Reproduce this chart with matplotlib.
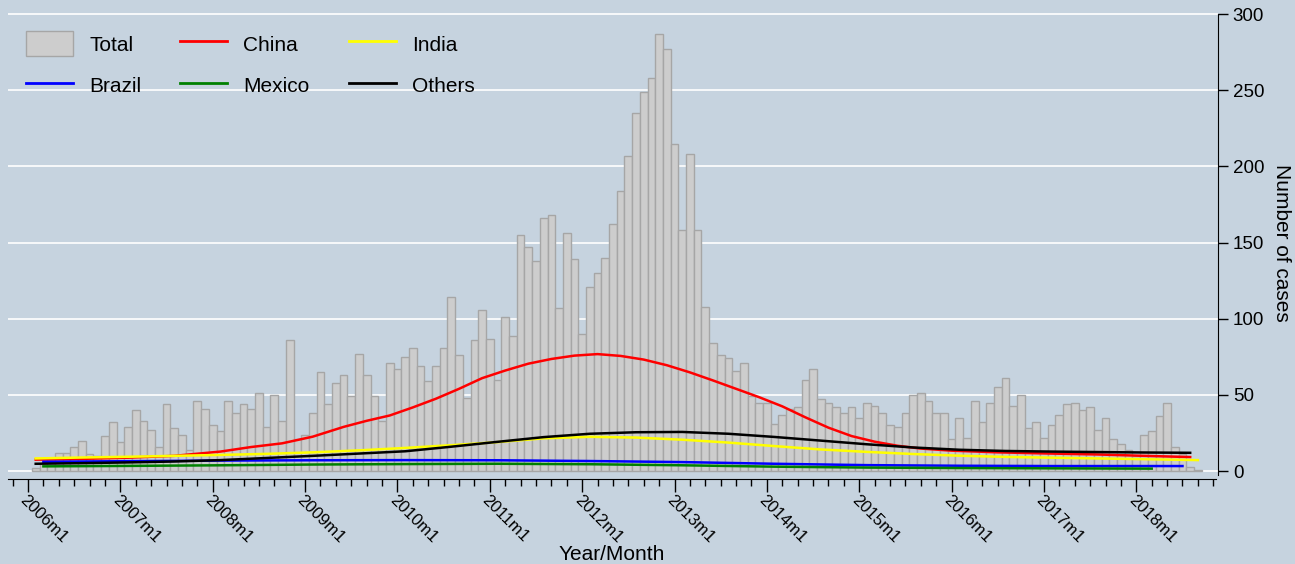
import numpy as np
import matplotlib.pyplot as plt
from matplotlib.patches import Patch
from matplotlib.lines import Line2D

plt.rcParams['font.family'] = ['Liberation Sans', 'DejaVu Sans']

# monthly totals, 2006m2 .. 2018m9 (month index 1 = 2006m2, 0 = 2006m1)
total = [2, 5, 8, 12, 12, 16, 20, 11, 10, 23, 32, 19,
         29, 40, 33, 27, 16, 44, 28, 24, 14, 46, 41, 30,
         26, 46, 38, 44, 41, 51, 29, 50, 33, 86, 21, 24,
         38, 65, 44, 58, 63, 49, 77, 63, 49, 33, 71, 67,
         75, 81, 69, 59, 69, 81, 114, 76, 48, 86, 106, 87,
         60, 101, 89, 155, 147, 138, 166, 168, 107, 156, 139, 90,
         121, 130, 140, 162, 184, 207, 235, 249, 258, 287, 277, 215,
         158, 208, 158, 108, 84, 76, 74, 66, 71, 49, 45, 45,
         31, 37, 41, 42, 60, 67, 47, 45, 42, 38, 42, 35,
         45, 43, 38, 30, 29, 38, 50, 51, 46, 38, 38, 21,
         35, 22, 46, 32, 45, 55, 61, 43, 50, 28, 32, 22,
         30, 37, 44, 45, 40, 42, 27, 35, 21, 18, 14, 10,
         24, 26, 36, 45, 16, 11, 3, 1]
total_months = np.arange(1, len(total) + 1)

# smoothed country curves (month index, cases)
china_m = [1, 7, 13, 19, 25, 29, 33, 37, 41, 44, 47, 50, 53, 56, 59, 62, 65, 68,
           71, 74, 77, 80, 83, 86, 89, 92, 95, 98, 101, 104, 107, 110, 113, 116,
           120, 126, 132, 139, 145, 151]
china_v = [7.5, 8.0, 8.8, 10.0, 12.8, 15.8, 18.2, 22.6, 29.0, 33.0, 36.5, 41.8,
           47.5, 54.0, 61.0, 66.0, 70.5, 73.6, 75.8, 76.8, 75.6, 73.2, 69.5, 64.8,
           59.5, 54.0, 48.5, 42.5, 35.3, 28.5, 23.0, 19.3, 16.6, 14.8, 13.4, 12.3,
           11.6, 10.9, 10.0, 9.2]

india_m = [1, 7, 13, 19, 25, 31, 37, 43, 49, 55, 61, 67, 73, 79, 85, 91, 97, 103,
           109, 115, 121, 127, 133, 139, 145, 152]
india_v = [8.3, 8.9, 9.4, 10.0, 10.6, 11.3, 12.3, 13.6, 15.2, 17.0, 19.0, 21.5,
           22.5, 22.0, 20.6, 18.7, 16.4, 14.2, 12.6, 11.2, 10.1, 9.3, 8.8, 8.3,
           7.8, 7.2]

brazil_m = [2, 13, 25, 37, 49, 61, 73, 85, 97, 109, 121, 133, 145, 150]
brazil_v = [6.1, 6.5, 6.9, 7.1, 7.2, 7.1, 6.6, 5.9, 4.8, 3.9, 3.5, 3.3, 3.3, 3.3]

mexico_m = [2, 13, 25, 37, 49, 61, 73, 85, 97, 109, 121, 133, 146]
mexico_v = [3.1, 3.4, 3.8, 4.3, 4.6, 4.8, 4.5, 3.8, 2.9, 2.3, 2.0, 1.8, 1.6]

others_m = [1, 7, 13, 19, 25, 31, 37, 43, 49, 55, 61, 67, 73, 79, 85, 91, 97, 103,
            109, 115, 121, 127, 133, 139, 145, 151]
others_v = [4.8, 5.2, 5.7, 6.3, 7.2, 8.6, 10.0, 11.5, 13.0, 16.0, 19.2, 22.3,
            24.5, 25.5, 25.7, 24.5, 22.4, 20.0, 17.6, 15.5, 14.0, 13.2, 12.8,
            12.5, 12.2, 12.0]

year_ticks = np.arange(0, 145, 12)
year_labels = [f"{2006 + i}m1" for i in range(len(year_ticks))]

bg = '#C6D3DF'
bar_fc = '#CDCDCD'
bar_ec = '#A6A6A6'

fig = plt.figure(figsize=(12.95, 5.64), dpi=100, facecolor=bg)
ax = fig.add_axes([8 / 1295, 1 - 479 / 564, 1209.5 / 1295, 472.5 / 564], facecolor=bg)

ax.bar(total_months, total, width=1.0, color=bar_fc, edgecolor=bar_ec, linewidth=1, zorder=2)
lw = 1.8
ax.plot(china_m, china_v, color='#FF0000', lw=lw, zorder=3)
ax.plot(india_m, india_v, color='#FFFF00', lw=lw, zorder=3)
ax.plot(brazil_m, brazil_v, color='#0000FF', lw=lw, zorder=3)
ax.plot(mexico_m, mexico_v, color='#008000', lw=lw, zorder=3)
ax.plot(others_m, others_v, color='black', lw=lw, zorder=3)

ax.set_xlim(-2.6, 154.55)
ax.set_ylim(-5.2, 305)

# y axis on the right
ax.yaxis.tick_right()
ax.set_yticks(np.arange(0, 301, 50))
ax.tick_params(axis='y', direction='out', length=7, width=1, labelsize=13.5, pad=4)
ax.grid(axis='y', color='white', lw=1.2, zorder=1)
ax.set_axisbelow(True)

# x axis
ax.set_xticks(year_ticks)
ax.set_xticklabels(year_labels, rotation=-45, ha='left', va='top', rotation_mode='anchor')
ax.set_xticks(np.arange(-2, 155, 2), minor=True)
ax.tick_params(axis='x', which='major', direction='out', length=9, width=1, labelsize=12, pad=0.5)
ax.tick_params(axis='x', which='minor', direction='out', length=5, width=1)

for s in ['top', 'left']:
    ax.spines[s].set_visible(False)
ax.spines['right'].set_bounds(-2.5, 300)
ax.spines['bottom'].set_bounds(-2.6, 154.3)

fig.text(612 / 1295, 1 - 560 / 564, 'Year/Month', fontsize=15, ha='center', va='baseline')
fig.text(1282 / 1295, 1 - 243 / 564, 'Number of cases', fontsize=15, rotation=270,
         ha='center', va='center')

handles = [Patch(facecolor=bar_fc, edgecolor=bar_ec, lw=1),
           Line2D([], [], color='#0000FF', lw=2),
           Line2D([], [], color='#FF0000', lw=2),
           Line2D([], [], color='#008000', lw=2),
           Line2D([], [], color='#FFFF00', lw=2),
           Line2D([], [], color='black', lw=2)]
labels = ['Total', 'Brazil', 'China', 'Mexico', 'India', 'Others']
ax.legend(handles, labels, ncol=3, loc='upper left',
          bbox_to_anchor=(26 / 1295, 1 - 31 / 564), bbox_transform=fig.transFigure,
          frameon=False, fontsize=15, handlelength=2.26, handleheight=1.49,
          handletextpad=0.77, columnspacing=1.87, labelspacing=0.8,
          borderpad=0, borderaxespad=0)

fig.savefig('out.png', dpi=100, facecolor=bg)
